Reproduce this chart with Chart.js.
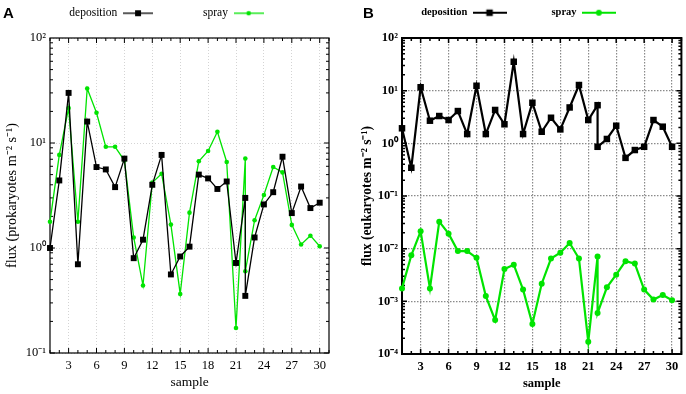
<!DOCTYPE html>
<html>
<head>
<meta charset="utf-8">
<script src="https://cdn.jsdelivr.net/npm/chart.js@4.4.1/dist/chart.umd.min.js"></script>
<style>
    body { margin: 0; background: #fff; }
    #wrap { display: flex; width: 686px; height: 394px; }
    canvas { display: block; }
</style>
</head>
<body>
<div id="wrap">
    <canvas id="chartProkaryotes" width="343" height="394"></canvas>
    <canvas id="chartEukaryotes" width="343" height="394"></canvas>
</div>
<script>
// sample 22 was measured twice, so it appears two times
const samples = [1, 2, 3, 4, 5, 6, 7, 8, 9, 10, 11, 12, 13, 14, 15, 16, 17, 18, 19, 20, 21, 22, 22, 23, 24, 25, 26, 27, 28, 29, 30]
const sampleTicks = [3, 6, 9, 12, 15, 18, 21, 24, 27, 30]
const decadesProk = [-1, 0, 1, 2]
const decadesEuk = [-4, -3, -2, -1, 0, 1, 2]
const seriesLabels = ['deposition', 'spray']

const depositionProk = [1.0, 4.4, 30, 0.70, 16, 5.9, 5.6, 3.8, 7.1, 0.80, 1.2, 4.0, 7.7, 0.56, 0.83, 1.03, 5.0, 4.6, 3.65, 4.3, 0.72, 3.0, 0.35, 1.26, 2.6, 3.4, 7.4, 2.15, 3.85, 2.4, 2.7]
const sprayProk = [1.78, 7.7, 21.5, 1.78, 33, 19.4, 9.2, 9.2, 6.8, 1.26, 0.44, 4.2, 5.1, 1.67, 0.365, 2.17, 6.7, 8.4, 12.8, 6.6, 0.173, 7.1, 0.6, 1.84, 3.2, 5.9, 5.25, 1.66, 1.08, 1.31, 1.04]
const depositionEuk = [1.93, 0.344, 11.6, 2.69, 3.3, 2.77, 4.1, 1.5, 12.4, 1.5, 4.3, 2.3, 35.4, 1.5, 5.9, 1.66, 3.06, 1.84, 4.8, 12.8, 2.77, 5.3, 0.86, 1.21, 2.16, 0.53, 0.746, 0.86, 2.77, 2.07, 0.86]
const sprayEuk = [1.76e-3, 7.5e-3, 2.13e-2, 1.76e-3, 3.26e-2, 1.93e-2, 9.0e-3, 9.0e-3, 6.7e-3, 1.26e-3, 4.4e-4, 4.1e-3, 4.96e-3, 1.67e-3, 3.7e-4, 2.16e-3, 6.5e-3, 8.4e-3, 1.28e-2, 6.5e-3, 1.71e-4, 7.1e-3, 6.0e-4, 1.85e-3, 3.2e-3, 5.8e-3, 5.2e-3, 1.67e-3, 1.08e-3, 1.32e-3, 1.05e-3]

const seriesColors = ['#000000', '#00e400']
const pointStyles = ['rect', 'circle']

const SUP = { '-': '\u207B', '0': '\u2070', '1': '\u00B9', '2': '\u00B2', '3': '\u00B3', '4': '\u2074' }

function powerLabel(value) {
    let exp = Math.round(Math.log10(value))
    return '10' + String(exp).split('').map(c => SUP[c]).join('')
}

// small line + marker picture used as legend symbol
function legendMarker(color, style, width, lineWidth, radius) {
    let c = document.createElement('canvas')
    c.width = width
    c.height = 12
    let ctx = c.getContext('2d')
    ctx.strokeStyle = color
    ctx.fillStyle = color
    ctx.lineWidth = lineWidth
    ctx.beginPath()
    ctx.moveTo(0, 6)
    ctx.lineTo(width, 6)
    ctx.stroke()
    ctx.beginPath()
    if (style == 'rect') {
        let s = radius * Math.SQRT1_2
        ctx.rect(width / 2 - s, 6 - s, 2 * s, 2 * s)
    } else {
        ctx.arc(width / 2, 6, radius, 0, 2 * Math.PI)
    }
    ctx.fill()
    return c
}

// box around the plot and the small inward ticks of gnuplot
const frameTicks = {
    id: 'frameTicks',
    beforeDatasetsDraw(chart, args, opts) {
        const { ctx, chartArea: a, scales: { x, y } } = chart
        ctx.save()
        ctx.strokeStyle = '#000'
        ctx.lineWidth = opts.tickWidth
        ctx.beginPath()
        for (let v = x.min; v <= x.max; v++) {
            let px = x.getPixelForValue(v)
            let len = v % 3 == 0 ? opts.major : opts.minor
            ctx.moveTo(px, a.bottom)
            ctx.lineTo(px, a.bottom - len)
            ctx.moveTo(px, a.top)
            ctx.lineTo(px, a.top + len)
        }
        let e0 = Math.round(Math.log10(y.min))
        let e1 = Math.round(Math.log10(y.max))
        for (let e = e0; e < e1; e++) {
            for (let k = 1; k < 10; k++) {
                let py = y.getPixelForValue(k * Math.pow(10, e))
                let len = k == 1 ? opts.major : opts.minor
                ctx.moveTo(a.left, py)
                ctx.lineTo(a.left + len, py)
                ctx.moveTo(a.right, py)
                ctx.lineTo(a.right - len, py)
            }
        }
        ctx.stroke()
        ctx.lineWidth = opts.frameWidth
        ctx.strokeRect(a.left, a.top, a.right - a.left, a.bottom - a.top)
        ctx.restore()
    }
}

const panelLabel = {
    id: 'panelLabel',
    afterDraw(chart, args, opts) {
        const ctx = chart.ctx
        ctx.save()
        ctx.fillStyle = '#000'
        ctx.font = 'bold 15px "Liberation Sans"'
        ctx.textBaseline = 'alphabetic'
        ctx.fillText(opts.text, opts.x, opts.y)
        ctx.restore()
    }
}

function createFluxChart(canvasId, cfg) {
    let datasets = []
    for (let i = 0; i < cfg.series.length; i++) {
        let dataset = {}
        dataset.label = seriesLabels[i]
        dataset.data = samples.map((s, j) => ({ x: s, y: cfg.series[i][j] }))
        dataset.borderColor = seriesColors[i]
        dataset.backgroundColor = seriesColors[i]
        dataset.borderWidth = cfg.lineWidth
        dataset.pointStyle = pointStyles[i]
        dataset.pointRadius = cfg.pointRadius[i]
        dataset.pointBorderWidth = 0
        dataset.tension = 0
        dataset.clip = false
        dataset.legendMarker = legendMarker(seriesColors[i], pointStyles[i], cfg.markerWidth, cfg.lineWidth, cfg.pointRadius[i])
        datasets.push(dataset)
    }

    const font = { family: cfg.font, weight: cfg.weight }
    const legendTextTop = 7.5
    // empty space between the legend row and the plot box
    const legendSpace = cfg.plotTop - (legendTextTop + cfg.legendSize + 10)

    return new Chart(document.getElementById(canvasId), {
        type: 'line',
        data: {
            datasets: datasets
        },
        options: {
            responsive: false,
            animation: false,
            events: [],
            layout: {
                padding: {
                    left: cfg.padLeft,
                    right: cfg.padRight,
                    top: legendTextTop - cfg.legendGap,
                    bottom: 0
                }
            },
            plugins: {
                legend: {
                    position: 'top',
                    rtl: true,
                    reverse: true,
                    labels: {
                        usePointStyle: true,
                        pointStyleWidth: cfg.markerWidth,
                        padding: cfg.legendGap,
                        color: '#000',
                        font: { ...font, size: cfg.legendSize },
                        generateLabels: function (chart) {
                            let items = Chart.defaults.plugins.legend.labels.generateLabels(chart)
                            items.forEach(item => item.pointStyle = chart.data.datasets[item.datasetIndex].legendMarker)
                            return items
                        }
                    }
                },
                tooltip: { enabled: false },
                panelLabel: { text: cfg.panel, x: cfg.panelX, y: 17.5 },
                frameTicks: {
                    frameWidth: cfg.frameWidth,
                    tickWidth: cfg.tickWidth,
                    major: 5,
                    minor: 3
                }
            },
            scales: {
                x: {
                    type: 'linear',
                    min: 1,
                    max: 31,
                    afterBuildTicks: scale => { scale.ticks = sampleTicks.map(v => ({ value: v })) },
                    afterFit: scale => { scale.height = cfg.xHeight },
                    ticks: {
                        color: '#000',
                        padding: 5,
                        font: { ...font, size: cfg.tickSize },
                        callback: value => String(value)
                    },
                    grid: {
                        color: cfg.gridColor,
                        lineWidth: cfg.gridWidth,
                        drawTicks: false
                    },
                    border: { display: false, dash: cfg.gridDash },
                    title: {
                        display: true,
                        text: 'sample',
                        color: '#000',
                        font: { ...font, size: cfg.titleSize },
                        padding: { top: 0, bottom: 3 }
                    }
                },
                spacer: {
                    type: 'linear',
                    position: 'top',
                    ticks: { display: false },
                    grid: { display: false },
                    border: { display: false },
                    afterFit: scale => { scale.height = legendSpace }
                },
                y: {
                    type: 'logarithmic',
                    min: Math.pow(10, cfg.decades[0]),
                    max: Math.pow(10, cfg.decades[cfg.decades.length - 1]),
                    afterBuildTicks: scale => { scale.ticks = cfg.decades.map(e => ({ value: Math.pow(10, e) })) },
                    afterFit: scale => { scale.width = cfg.yWidth },
                    ticks: {
                        color: '#000',
                        padding: 4,
                        font: { ...font, size: cfg.tickSize },
                        callback: value => powerLabel(value)
                    },
                    grid: {
                        color: cfg.gridColor,
                        lineWidth: cfg.gridWidth,
                        drawTicks: false
                    },
                    border: { display: false, dash: cfg.gridDash },
                    title: {
                        display: true,
                        text: cfg.yTitle,
                        color: '#000',
                        font: { ...font, size: cfg.yTitleSize },
                        padding: { top: cfg.yTitlePad, bottom: 0 }
                    }
                }
            }
        },
        plugins: [frameTicks, panelLabel]
    })
}

createFluxChart('chartProkaryotes', {
    panel: 'A',
    panelX: 3,
    series: [depositionProk, sprayProk],
    decades: decadesProk,
    yTitle: 'flux (prokaryotes m\u207B\u00B2 s\u207B\u00B9)',
    font: '"Liberation Serif"',
    weight: 'normal',
    tickSize: 12.5,
    titleSize: 13.5,
    yTitleSize: 14.2,
    legendSize: 11.5,
    legendGap: 50,
    markerWidth: 30,
    lineWidth: 1.3,
    pointRadius: [4.2, 2.3],
    gridColor: '#d4d4d4',
    gridWidth: 1,
    gridDash: [1, 2],
    frameWidth: 1.2,
    tickWidth: 1,
    padLeft: 4,
    padRight: 14,
    yWidth: 46,
    yTitlePad: 0,
    xHeight: 41,
    plotTop: 38
})

createFluxChart('chartEukaryotes', {
    panel: 'B',
    panelX: 20,
    series: [depositionEuk, sprayEuk],
    decades: decadesEuk,
    yTitle: 'flux (eukaryotes m\u207B\u00B2 s\u207B\u00B9)',
    font: '"Liberation Serif"',
    weight: 'bold',
    tickSize: 12.5,
    titleSize: 12.5,
    yTitleSize: 13.6,
    legendSize: 10.5,
    legendGap: 45,
    markerWidth: 34,
    lineWidth: 2.2,
    pointRadius: [4.6, 3],
    gridColor: '#8a8a8a',
    gridWidth: 1.2,
    gridDash: [1.5, 1.5],
    frameWidth: 2,
    tickWidth: 1.5,
    padLeft: 12,
    padRight: 4,
    yWidth: 47,
    yTitlePad: 4,
    xHeight: 40,
    plotTop: 38
})
</script>
</body>
</html>
